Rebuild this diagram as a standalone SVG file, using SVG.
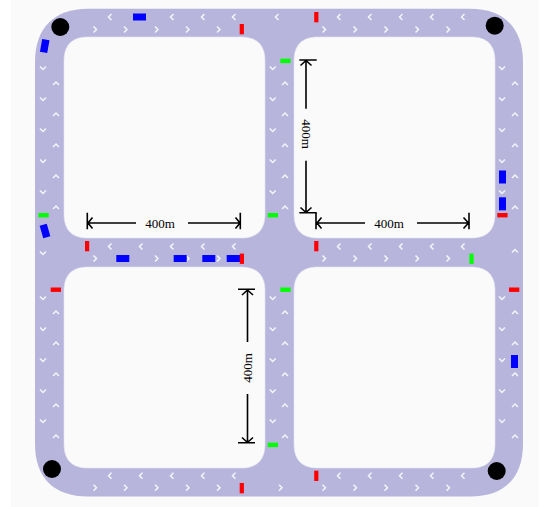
<svg xmlns="http://www.w3.org/2000/svg" width="553" height="507" viewBox="0 0 553 507">
<style>
.ch{fill:none;stroke:#f4f4fa;stroke-width:1.5}
.block{fill:#fafafa;stroke:#e6e6f4;stroke-width:.6}
.dim{fill:none;stroke:#000;stroke-width:1.6}
.red{fill:#ff0000}.green{fill:#00ff00}.blue{fill:#0000ff}
text{font-family:"Liberation Serif",serif;font-size:13px;fill:#000;text-anchor:middle;dominant-baseline:central}
</style>
<defs>
<path id="l" class="ch" d="M1.5-3L-1.5 0L1.5 3"/>
<path id="r" class="ch" d="M-1.5-3L1.5 0L-1.5 3"/>
<path id="u" class="ch" d="M-3 1.5L0-1.5L3 1.5"/>
<path id="d" class="ch" d="M-3-1.5L0 1.500L3-1.500"/>
<path id="b" class="block" d="M0 24C0 8 8 0 24 0H177C193 0 201 8 201 24V177C201 193 193 201 177 201H24C8 201 0 193 0 177Z"/>
</defs>
<rect x="11" y="0" width="527.5" height="507" fill="#fafafa"/>
<g id="road">
<path d="M35 62C35 28 54 8.700 88 8.700H470C504 8.700 523 28 523 62V444C523 478 504 496.500 470 496.500H88C54 496.500 35 478 35 444Z" fill="#b7b5dc"/>
<use href="#b" x="64" y="37"/><use href="#b" x="294" y="37"/><use href="#b" x="64" y="267"/><use href="#b" x="294" y="267"/>
</g>
<g id="lane-markings">
<use href="#l" x="110" y="17"/><use href="#l" x="141" y="17"/><use href="#l" x="172" y="17"/><use href="#l" x="203" y="17"/><use href="#l" x="234" y="17"/><use href="#l" x="277" y="17"/><use href="#l" x="339" y="17"/><use href="#l" x="370" y="17"/><use href="#l" x="401" y="17"/><use href="#l" x="432" y="17"/><use href="#l" x="463" y="17"/>
<use href="#r" x="95" y="29.500"/><use href="#r" x="125.500" y="29.500"/><use href="#r" x="156.500" y="29.500"/><use href="#r" x="187.500" y="29.500"/><use href="#r" x="218.500" y="29.500"/><use href="#r" x="324" y="29.500"/><use href="#r" x="355" y="29.500"/><use href="#r" x="386" y="29.500"/><use href="#r" x="417" y="29.500"/><use href="#r" x="448" y="29.500"/>
<use href="#l" x="110" y="246.500"/><use href="#l" x="141" y="246.500"/><use href="#l" x="172" y="246.500"/><use href="#l" x="203" y="246.500"/><use href="#l" x="234" y="246.500"/><use href="#l" x="339" y="246.500"/><use href="#l" x="370" y="246.500"/><use href="#l" x="401" y="246.500"/><use href="#l" x="432" y="246.500"/><use href="#l" x="463" y="246.500"/>
<use href="#r" x="95" y="258.500"/><use href="#r" x="125.500" y="258.500"/><use href="#r" x="156.500" y="258.500"/><use href="#r" x="187.500" y="258.500"/><use href="#r" x="218.500" y="258.500"/><use href="#r" x="324" y="258.500"/><use href="#r" x="355" y="258.500"/><use href="#r" x="386" y="258.500"/><use href="#r" x="417" y="258.500"/><use href="#r" x="448" y="258.500"/>
<use href="#l" x="110" y="475.700"/><use href="#l" x="141" y="475.700"/><use href="#l" x="172" y="475.700"/><use href="#l" x="203" y="475.700"/><use href="#l" x="234" y="475.700"/><use href="#l" x="339" y="475.700"/><use href="#l" x="370" y="475.700"/><use href="#l" x="401" y="475.700"/><use href="#l" x="432" y="475.700"/><use href="#l" x="463" y="475.700"/>
<use href="#r" x="95" y="487.700"/><use href="#r" x="125.500" y="487.700"/><use href="#r" x="156.500" y="487.700"/><use href="#r" x="187.500" y="487.700"/><use href="#r" x="218.500" y="487.700"/><use href="#r" x="280.500" y="487.700"/><use href="#r" x="324" y="487.700"/><use href="#r" x="355" y="487.700"/><use href="#r" x="386" y="487.700"/><use href="#r" x="417" y="487.700"/><use href="#r" x="448" y="487.700"/>
<use href="#d" x="43" y="68"/><use href="#d" x="43" y="99"/><use href="#d" x="43" y="130"/><use href="#d" x="43" y="161"/><use href="#d" x="43" y="192"/><use href="#d" x="43" y="253"/><use href="#d" x="43" y="298"/><use href="#d" x="43" y="329"/><use href="#d" x="43" y="360"/><use href="#d" x="43" y="391"/><use href="#d" x="43" y="421"/>
<use href="#u" x="56" y="83.500"/><use href="#u" x="56" y="114.500"/><use href="#u" x="56" y="145.500"/><use href="#u" x="56" y="176.500"/><use href="#u" x="56" y="207.500"/><use href="#u" x="56" y="312.500"/><use href="#u" x="56" y="343.500"/><use href="#u" x="56" y="374.500"/><use href="#u" x="56" y="405.500"/><use href="#u" x="56" y="436.500"/>
<use href="#d" x="272.700" y="68"/><use href="#d" x="272.700" y="99"/><use href="#d" x="272.700" y="130"/><use href="#d" x="272.700" y="161"/><use href="#d" x="272.700" y="192"/><use href="#d" x="272.700" y="298"/><use href="#d" x="272.700" y="329"/><use href="#d" x="272.700" y="360"/><use href="#d" x="272.700" y="391"/><use href="#d" x="272.700" y="421"/>
<use href="#u" x="285" y="83.500"/><use href="#u" x="285" y="114.500"/><use href="#u" x="285" y="145.500"/><use href="#u" x="285" y="176.500"/><use href="#u" x="285" y="207.500"/><use href="#u" x="285" y="312.500"/><use href="#u" x="285" y="343.500"/><use href="#u" x="285" y="374.500"/><use href="#u" x="285" y="405.500"/><use href="#u" x="285" y="436.500"/>
<use href="#d" x="502" y="68"/><use href="#d" x="502" y="99"/><use href="#d" x="502" y="130"/><use href="#d" x="502" y="161"/><use href="#d" x="502" y="192"/><use href="#d" x="502" y="298"/><use href="#d" x="502" y="329"/><use href="#d" x="502" y="360"/><use href="#d" x="502" y="391"/><use href="#d" x="502" y="421"/>
<use href="#u" x="515" y="83.500"/><use href="#u" x="515" y="114.500"/><use href="#u" x="515" y="145.500"/><use href="#u" x="515" y="176.500"/><use href="#u" x="515" y="207.500"/><use href="#u" x="515" y="251"/><use href="#u" x="515" y="312.500"/><use href="#u" x="515" y="343.500"/><use href="#u" x="515" y="374.500"/><use href="#u" x="515" y="405.500"/><use href="#u" x="515" y="436.500"/>
</g>
<g id="vehicles">
<rect class="blue" x="133" y="13.500" width="13" height="7"/>
<rect class="blue" x="-3.700" y="-6.500" width="7.400" height="13" transform="translate(44.700 46) rotate(10)"/>
<rect class="blue" x="-3.700" y="-6.500" width="7.400" height="13" transform="translate(45 231) rotate(-16)"/>
<rect class="blue" x="116.300" y="255" width="13" height="7"/>
<rect class="blue" x="173.700" y="255" width="13" height="7"/>
<rect class="blue" x="202.300" y="255" width="13" height="7"/>
<rect class="blue" x="226.700" y="255" width="13.300" height="7"/>
<rect class="blue" x="499" y="170.500" width="7" height="13"/>
<rect class="blue" x="499" y="197.300" width="7" height="13"/>
<rect class="blue" x="511" y="355" width="7" height="13"/>
</g>
<g id="signals">
<rect class="red" x="239.700" y="24" width="4.200" height="10.300"/>
<rect class="red" x="314.200" y="12" width="4.200" height="10.300"/>
<rect class="red" x="85" y="241" width="4.200" height="10.300"/>
<rect class="red" x="314.200" y="241" width="4.200" height="10.300"/>
<rect class="red" x="239.800" y="253.600" width="4.200" height="10.300"/>
<rect class="red" x="239.700" y="483" width="4.200" height="10.300"/>
<rect class="red" x="314.200" y="470.700" width="4.200" height="10.300"/>
<rect class="red" x="50.700" y="287.500" width="10.300" height="4.400"/>
<rect class="red" x="509" y="287.500" width="10.300" height="4.400"/>
<rect class="red" x="497.300" y="213" width="10.300" height="4.400"/>
<rect class="green" x="38.400" y="213" width="10.300" height="4.400"/>
<rect class="green" x="267.700" y="213" width="10.300" height="4.400"/>
<rect class="green" x="280.300" y="58.700" width="10.300" height="4.400"/>
<rect class="green" x="280.300" y="287.500" width="10.300" height="4.400"/>
<rect class="green" x="267.700" y="442.700" width="10.300" height="4.400"/>
<rect class="green" x="469.400" y="253.600" width="4.200" height="10.300"/>
</g>
<g id="cameras">
<circle cx="60.300" cy="27" r="9"/><circle cx="494.700" cy="25.700" r="9"/><circle cx="52" cy="469" r="9"/><circle cx="496.700" cy="471" r="9"/>
</g>
<g id="dimensions">
<path class="dim" d="M87.300 212.700V229.300M240.300 212.700V229.300M88 223H136M188 223H240M92.500 217.500L88 223L92.500 228.500M235.500 217.500L240 223L235.500 228.500"/>
<text x="160" y="223">400m</text>
<path class="dim" d="M316 212.700V229.300M469 212.700V229.300M317 223H365M417 223H468.500M321.500 217.500L317 223L321.500 228.500M463.500 217.500L468.500 223L463.500 228.500"/>
<text x="389" y="223">400m</text>
<path class="dim" d="M299.300 60H316.700M299.300 212.700H316.700M306 60.500V108.700M306 160.700V212M300.500 65.500L306 60.500L311.500 65.500M300.500 207.500L306 212.500L311.500 207.500"/>
<text transform="translate(306 134) rotate(90)">400m</text>
<path class="dim" d="M238 289.300H255M238 442.700H255M247.500 290V342M247.500 394V442M242 295L247.500 290L253 295M242 437.500L247.500 442.500L253 437.500"/>
<text transform="translate(247.500 368) rotate(-90)">400m</text>
</g>
</svg>
